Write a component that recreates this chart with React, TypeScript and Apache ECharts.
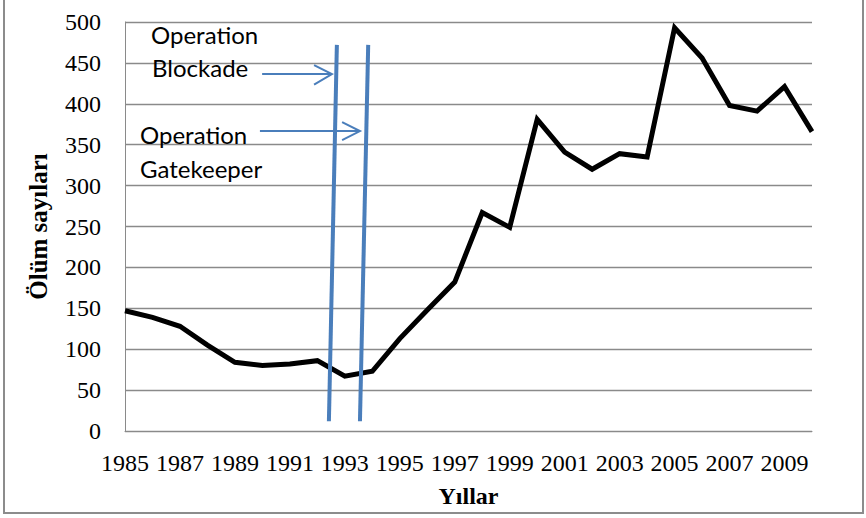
import React, { useEffect, useRef } from "react";
import * as echarts from "echarts";

const years = ["1985","1986","1987","1988","1989","1990","1991","1992","1993","1994","1995","1996","1997","1998","1999","2000","2001","2002","2003","2004","2005","2006","2007","2008","2009","2010"];
const deaths = [147, 139, 128, 105, 84, 80, 82, 86, 67, 73, 113, 148, 182, 267, 249, 381, 341, 320, 339, 335, 493, 456, 398, 391, 421, 366];

// annotation lines in data coordinates [year, value]
const blockadeLine = [[1992.71, 472], [1992.42, 12]];
const gatekeeperLine = [[1993.85, 472], [1993.55, 12]];
const blockadeArrowShaft = [[1989.99, 436.4], [1992.53, 436.4]];
const blockadeArrowHead = [[1991.88, 447.4], [1992.53, 436.4], [1991.88, 423.5]];
const gatekeeperArrowShaft = [[1989.91, 366.7], [1993.55, 366.7]];
const gatekeeperArrowHead = [[1992.9, 377.7], [1993.55, 366.7], [1992.9, 355.7]];

const yAxisTitle = "Ölüm sayıları";
const xAxisTitle = "Yıllar";
const blockadeLabel = ["Operation", "Blockade"];
const gatekeeperLabel = ["Operation", "Gatekeeper"];

const BLUE = "#4a7ebb";
const GRID = "#8a8a8a";

function annot(data: number[][], width: number) {
  return {
    type: "line",
    xAxisIndex: 1,
    yAxisIndex: 0,
    data,
    symbol: "none",
    silent: true,
    lineStyle: { color: BLUE, width, cap: "butt", join: "miter" },
    z: 3,
  };
}

export default function App() {
  const ref = useRef<HTMLDivElement>(null);
  useEffect(() => {
    if (!ref.current) return;
    const chart = echarts.init(ref.current, undefined, { renderer: "svg" });
    const textStyle = (t: string, x: number, y: number) => ({
      type: "text",
      x,
      y,
      silent: true,
      z: 10,
      style: {
        text: t,
        font: "24px Lato",
        fill: "#000",
        textAlign: "left",
        textVerticalAlign: "middle",
        verticalAlign: "middle",
      },
    });
    chart.setOption({
      animation: false,
      backgroundColor: "#fff",
      grid: { left: 125, right: 54, top: 22, bottom: 87, containLabel: false },
      xAxis: [
        {
          type: "category",
          data: years,
          boundaryGap: false,
          axisLine: { show: true, lineStyle: { color: GRID, width: 1 } },
          axisTick: { show: false },
          axisLabel: {
            interval: 1,
            margin: 20,
            fontFamily: "Liberation Serif",
            fontSize: 24,
            color: "#000",
          },
          splitLine: { show: false },
          name: xAxisTitle,
          nameLocation: "middle",
          nameGap: 53,
          nameTextStyle: {
            fontFamily: "Liberation Serif",
            fontWeight: "bold",
            fontSize: 24,
            color: "#000",
          },
        },
        {
          type: "value",
          min: 1985,
          max: 2010,
          show: false,
          splitLine: { show: false },
        },
      ],
      yAxis: {
        type: "value",
        min: 0,
        max: 500,
        interval: 50,
        axisLine: { show: true, lineStyle: { color: GRID, width: 1 } },
        axisTick: { show: false },
        axisLabel: {
          margin: 24,
          fontFamily: "Liberation Serif",
          fontSize: 24,
          color: "#000",
        },
        splitLine: { show: true, lineStyle: { color: GRID, width: 1.3 } },
        name: yAxisTitle,
        nameLocation: "middle",
        nameGap: 74,
        nameTextStyle: {
          fontFamily: "Liberation Serif",
          fontWeight: "bold",
          fontSize: 25,
          color: "#000",
        },
      },
      series: [
        {
          type: "line",
          data: deaths,
          symbol: "none",
          silent: true,
          lineStyle: { color: "#000", width: 5, join: "miter" },
          z: 2,
        },
        annot(blockadeLine, 4),
        annot(gatekeeperLine, 4),
        annot(blockadeArrowShaft, 2),
        annot(blockadeArrowHead, 2),
        annot(gatekeeperArrowShaft, 2),
        annot(gatekeeperArrowHead, 2),
      ],
      graphic: [
        {
          type: "rect",
          silent: true,
          z: 0,
          shape: { x: 4, y: -5, width: 859, height: 518 },
          style: { fill: "none", stroke: "#8c8c8c", lineWidth: 2 },
        },
        textStyle(blockadeLabel[0], 151, 34),
        textStyle(blockadeLabel[1], 152, 67),
        textStyle(gatekeeperLabel[0], 140, 134),
        textStyle(gatekeeperLabel[1], 140, 168),
      ],
    });
    return () => chart.dispose();
  }, []);
  return (
    <div
      ref={ref}
      style={{ position: "fixed", left: 0, top: 0, width: 866, height: 518 }}
    />
  );
}
